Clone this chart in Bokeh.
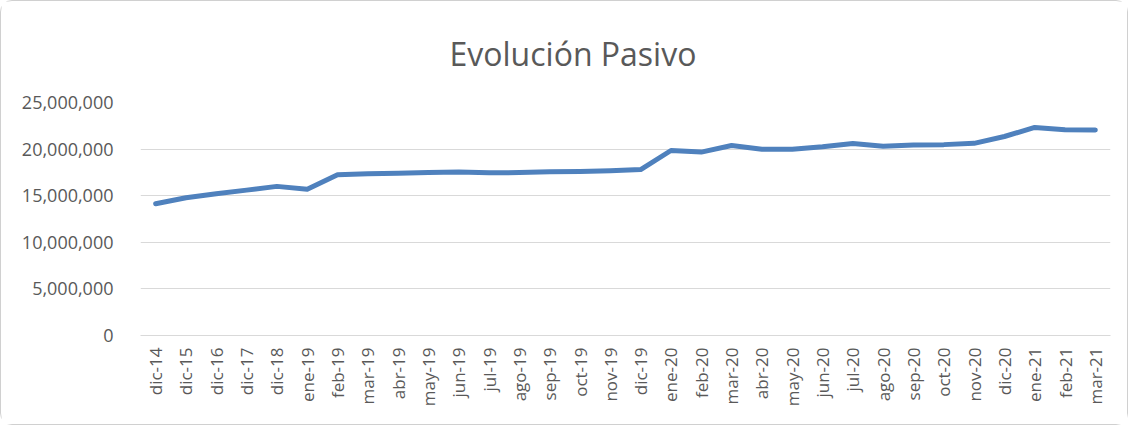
from bokeh.plotting import figure
from bokeh.models import FactorRange, Range1d, NumeralTickFormatter, FixedTicker
from bokeh.embed import file_html
from bokeh.resources import INLINE
import math

categories = ["dic-14", "dic-15", "dic-16", "dic-17", "dic-18", "ene-19", "feb-19", "mar-19",
              "abr-19", "may-19", "jun-19", "jul-19", "ago-19", "sep-19", "oct-19", "nov-19",
              "dic-19", "ene-20", "feb-20", "mar-20", "abr-20", "may-20", "jun-20", "jul-20",
              "ago-20", "sep-20", "oct-20", "nov-20", "dic-20", "ene-21", "feb-21", "mar-21"]
pasivo = [14130000, 14780000, 15200000, 15600000, 16000000, 15700000, 17250000, 17350000,
          17420000, 17500000, 17550000, 17450000, 17480000, 17580000, 17600000, 17680000,
          17800000, 19850000, 19680000, 20380000, 19980000, 19980000, 20250000, 20600000,
          20300000, 20440000, 20480000, 20620000, 21350000, 22330000, 22080000, 22040000]
y_ticks = [0, 5000000, 10000000, 15000000, 20000000, 25000000]

FONT = "Open Sans"
GREY = "#595959"

p = figure(width=1128, height=425, output_backend="svg", toolbar_location=None,
           x_range=FactorRange(factors=categories, range_padding=0),
           y_range=Range1d(0, 25000000),
           min_border_left=139, min_border_right=19, min_border_top=101, min_border_bottom=91,
           title="Evolución Pasivo")
p.styles = {"border": "1px solid #d0d0d0", "border-radius": "12px"}

p.title.align = "left"
p.title.offset = 309
p.title.text_font = FONT
p.title.text_font_size = "32px"
p.title.text_font_style = "normal"
p.title.text_color = GREY
p.title.standoff = 56

p.line(x=categories, y=pasivo, line_color="#4F81BD", line_width=5,
       line_cap="round", line_join="round")

p.outline_line_color = None
p.xgrid.grid_line_color = None
p.ygrid.grid_line_color = "#D9D9D9"
p.ygrid.grid_line_width = 1

p.yaxis.ticker = FixedTicker(ticks=y_ticks)
p.yaxis.formatter = NumeralTickFormatter(format="0,0")
p.yaxis.axis_line_color = None
p.yaxis.major_tick_line_color = None
p.yaxis.minor_tick_line_color = None
p.yaxis.major_label_standoff = 21
p.yaxis.major_label_text_font = FONT
p.yaxis.major_label_text_font_size = "18px"
p.yaxis.major_label_text_color = GREY

p.xaxis.axis_line_color = "#D9D9D9"
p.xaxis.axis_line_width = 1
p.xaxis.major_tick_line_color = None
p.xaxis.major_tick_out = 0
p.xaxis.major_label_orientation = math.pi / 2
p.xaxis.major_label_standoff = 12
p.xaxis.major_label_text_font = FONT
p.xaxis.major_label_text_font_size = "17px"
p.xaxis.major_label_text_color = GREY

p.background_fill_color = "white"
p.border_fill_color = "white"

open("out.html", "w").write(file_html(p, INLINE))
